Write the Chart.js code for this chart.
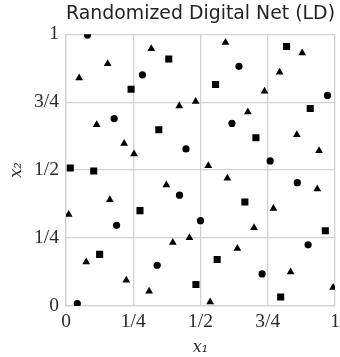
<!DOCTYPE html>
<html>
<head>
<meta charset="utf-8">
<script src="https://cdn.jsdelivr.net/npm/chart.js@4/dist/chart.umd.min.js"></script>
<style>
  html, body { margin: 0; padding: 0; background: #fff; }
  #wrap { width: 340px; height: 357px; }
</style>
</head>
<body>
<div id="wrap"><canvas id="net"></canvas></div>
<script>
// points of the net, split by marker
const circleX = [0.080, 0.284, 0.179, 0.446, 0.643, 0.972, 0.617, 0.759, 0.422, 0.188, 0.500, 0.339, 0.042, 0.860, 0.900, 0.729];
const circleY = [0.997, 0.851, 0.690, 0.578, 0.882, 0.775, 0.672, 0.534, 0.408, 0.297, 0.314, 0.150, 0.009, 0.454, 0.225, 0.118];

const squareX = [0.382, 0.242, 0.345, 0.016, 0.103, 0.820, 0.556, 0.908, 0.706, 0.275, 0.125, 0.483, 0.665, 0.964, 0.562, 0.798];
const squareY = [0.909, 0.798, 0.649, 0.508, 0.497, 0.955, 0.815, 0.727, 0.619, 0.351, 0.190, 0.079, 0.383, 0.277, 0.171, 0.033];

const triX = [0.317, 0.155, 0.049, 0.421, 0.482, 0.114, 0.216, 0.253, 0.593, 0.878, 0.794, 0.738, 0.676, 0.858, 0.941, 0.529,
              0.373, 0.163, 0.010, 0.397, 0.459, 0.075, 0.224, 0.309, 0.600, 0.934, 0.771, 0.699, 0.637, 0.835, 0.993, 0.536];
const triY = [0.947, 0.892, 0.839, 0.736, 0.753, 0.667, 0.598, 0.559, 0.970, 0.931, 0.860, 0.790, 0.714, 0.630, 0.571, 0.516,
              0.445, 0.391, 0.337, 0.234, 0.251, 0.162, 0.095, 0.054, 0.470, 0.431, 0.359, 0.288, 0.212, 0.125, 0.068, 0.015];

const tickValues = [0, 0.25, 0.5, 0.75, 1];
const tickLabels = ['0', '1/4', '1/2', '3/4', '1'];

const gridColor = '#d2d2d2';
const serif = "'Liberation Serif', 'DejaVu Serif', serif";

function toPoints(xs, ys) {
    return xs.map((x, i) => ({ x: x, y: ys[i] }));
}

function tickLabel(value) {
    const idx = tickValues.findIndex(v => Math.abs(v - value) < 1e-9);
    return idx >= 0 ? tickLabels[idx] : '';
}

const axisBase = {
    type: 'linear',
    min: 0,
    max: 1,
    grid: {
        color: gridColor,
        lineWidth: 1.3,
        drawTicks: false,
    },
    border: { color: gridColor, width: 1.3 },
    ticks: {
        stepSize: 0.25,
        color: '#2a2a2a',
        font: { family: serif, size: 19.5 },
        callback: tickLabel,
    },
};

new Chart(document.getElementById('net'), {
    type: 'scatter',
    data: {
        datasets: [
            {
                data: toPoints(circleX, circleY),
                pointStyle: 'circle',
                pointRadius: 3.6,
                backgroundColor: '#000',
                borderWidth: 0,
            },
            {
                data: toPoints(squareX, squareY),
                pointStyle: 'rect',
                pointRadius: 5,
                backgroundColor: '#000',
                borderWidth: 0,
            },
            {
                data: toPoints(triX, triY),
                pointStyle: 'triangle',
                pointRadius: 4.5,
                backgroundColor: '#000',
                borderWidth: 0,
            },
        ],
    },
    options: {
        responsive: true,
        maintainAspectRatio: false,
        animation: false,
        layout: { padding: { top: 0, right: 3, bottom: 0, left: 0 } },
        plugins: {
            legend: { display: false },
            tooltip: { enabled: false },
            title: {
                display: true,
                text: 'Randomized Digital Net (LD)',
                fullSize: false,
                color: '#222',
                font: { family: "'DejaVu Sans', sans-serif", size: 19, weight: 'normal' },
                padding: { top: 3, bottom: 8.5 },
            },
        },
        scales: {
            x: {
                ...axisBase,
                ticks: { ...axisBase.ticks, padding: 4, maxRotation: 0 },
                title: {
                    display: true,
                    text: 'x₁',
                    color: '#2a2a2a',
                    font: { family: "'DejaVu Serif', serif", size: 16, style: 'italic' },
                    padding: { top: 4, bottom: 0 },
                },
                afterFit: (scale) => {
                    scale.height = 51;
                    scale.paddingLeft = 0;
                    scale.paddingRight = 0;
                },
            },
            y: {
                ...axisBase,
                ticks: { ...axisBase.ticks, padding: 7 },
                title: {
                    display: true,
                    text: 'x₂',
                    color: '#2a2a2a',
                    font: { family: "'DejaVu Serif', serif", size: 16, style: 'italic' },
                    padding: { top: 7, bottom: 0 },
                },
                afterFit: (scale) => {
                    scale.width = 66;
                    scale.paddingTop = 0;
                    scale.paddingBottom = 0;
                },
            },
        },
    },
});
</script>
</body>
</html>
